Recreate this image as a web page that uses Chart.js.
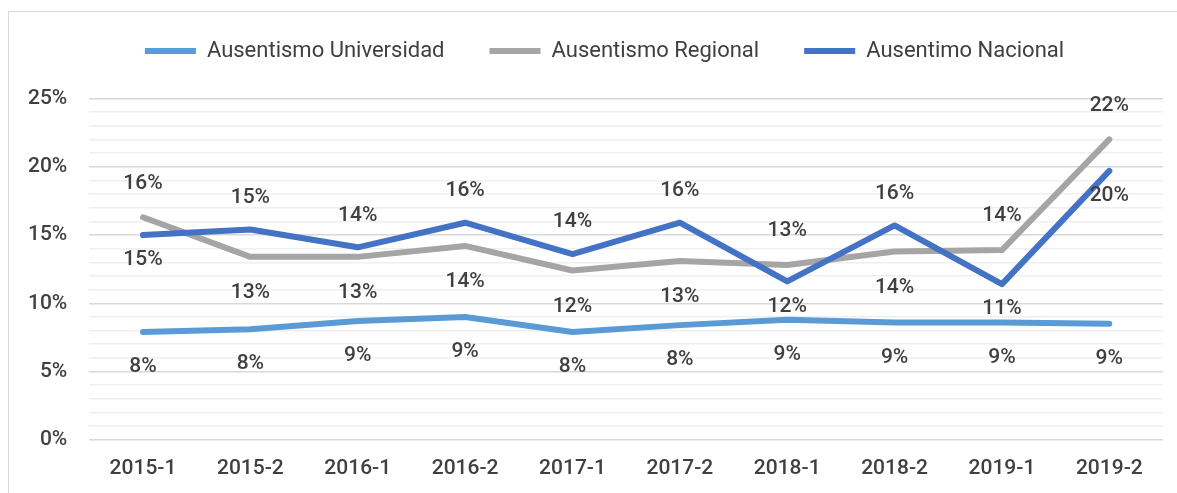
<!DOCTYPE html>
<html>
<head>
<meta charset="utf-8">
<script src="https://cdn.jsdelivr.net/npm/chart.js@4"></script>
<style>
  html, body { margin: 0; padding: 0; background: #fff; overflow: hidden; }
  #frame { position: absolute; left: 8px; top: 11px; width: 1300px; height: 600px; border: 1px solid #d9d9d9; }
  #wrap { position: absolute; left: 0; top: 0; width: 1177px; height: 493px; }
</style>
</head>
<body>
<div id="frame"></div>
<div id="wrap"><canvas id="ausentismoChart"></canvas></div>
<script>
const periodos = ['2015-1', '2015-2', '2016-1', '2016-2', '2017-1', '2017-2', '2018-1', '2018-2', '2019-1', '2019-2'];
const universidad = [7.9, 8.1, 8.7, 9.0, 7.9, 8.4, 8.8, 8.6, 8.6, 8.5];
const regional = [16.3, 13.4, 13.4, 14.2, 12.4, 13.1, 12.8, 13.8, 13.9, 22.0];
const nacional = [15.0, 15.4, 14.1, 15.9, 13.6, 15.9, 11.6, 15.7, 11.4, 19.7];

// donde va la etiqueta de cada punto (arriba / abajo)
const posUniversidad = ['b', 'b', 'b', 'b', 'b', 'b', 'b', 'b', 'b', 'b'];
const posRegional = ['a', 'b', 'b', 'b', 'b', 'b', 'a', 'b', 'a', 'a'];
const posNacional = ['b', 'a', 'a', 'a', 'a', 'a', 'b', 'a', 'b', 'b'];

const textColor = '#404040';

// plugin simple para las etiquetas de datos
const etiquetas = {
  id: 'etiquetas',
  afterDatasetsDraw(chart) {
    const ctx = chart.ctx;
    ctx.save();
    ctx.font = '500 21px Roboto';
    ctx.fillStyle = textColor;
    ctx.textAlign = 'center';
    ctx.textBaseline = 'middle';
    chart.data.datasets.forEach((ds, i) => {
      const meta = chart.getDatasetMeta(i);
      meta.data.forEach((pt, j) => {
        const off = ds.labelPos[j] === 'a' ? -ds.labelGap.a : ds.labelGap.b;
        ctx.fillText(Math.round(ds.data[j]) + '%', pt.x, pt.y + off);
      });
    });
    ctx.restore();
  }
};

// la leyenda usa el mismo padding en horizontal y vertical; se ajusta aqui
const ajusteLeyenda = {
  id: 'ajusteLeyenda',
  beforeLayout(chart) {
    const lg = chart.legend;
    if (!lg || lg._ajustado) return;
    const fit = lg.fit;
    lg.fit = function () {
      fit.call(this);
      this.height += 26.5;
      this.lineWidths = this.lineWidths.map(w => w - 40);
    };
    lg._ajustado = true;
  }
};

const ctx = document.getElementById('ausentismoChart').getContext('2d');
const chart = new Chart(ctx, {
  type: 'line',
  data: {
    labels: periodos,
    datasets: [
      {
        label: 'Ausentismo Universidad',
        data: universidad,
        borderColor: '#5b9bd5',
        backgroundColor: '#5b9bd5',
        labelPos: posUniversidad,
        labelGap: { a: 34, b: 35 },
        order: 2
      },
      {
        label: 'Ausentismo Regional',
        data: regional,
        borderColor: '#a5a5a5',
        backgroundColor: '#a5a5a5',
        labelPos: posRegional,
        labelGap: { a: 34, b: 36 },
        order: 1
      },
      {
        label: 'Ausentimo Nacional',
        data: nacional,
        borderColor: '#4472c4',
        backgroundColor: '#4472c4',
        labelPos: posNacional,
        labelGap: { a: 32, b: 25 },
        order: 0
      }
    ]
  },
  options: {
    responsive: true,
    maintainAspectRatio: false,
    animation: false,
    datasets: {
      line: { borderWidth: 6, borderCapStyle: 'round', borderJoinStyle: 'round', tension: 0, pointRadius: 0, pointHoverRadius: 0 }
    },
    layout: { padding: { top: -5, right: 14, left: 6, bottom: -4 } },
    plugins: {
      legend: {
        position: 'top',
        labels: {
          sort: (a, b) => a.datasetIndex - b.datasetIndex,
          usePointStyle: true,
          pointStyle: 'line',
          pointStyleWidth: 51,
          boxHeight: 6,
          padding: 45,
          color: textColor,
          font: { family: 'Roboto', size: 22 }
        }
      },
      tooltip: { enabled: false }
    },
    scales: {
      x: {
        offset: true,
        grid: { display: false, drawTicks: false },
        border: { display: false },
        ticks: {
          color: textColor,
          padding: 16,
          maxRotation: 0,
          font: { family: 'Roboto', size: 21, weight: '500' }
        }
      },
      y: {
        min: 0,
        max: 25,
        border: { display: false },
        grid: {
          drawTicks: false,
          lineWidth: 1.5,
          color: c => (c.tick && c.tick.value % 5 === 0) ? '#d9d9d9' : '#efefef'
        },
        ticks: {
          stepSize: 1,
          autoSkip: false,
          padding: 22,
          color: textColor,
          font: { family: 'Roboto', size: 21, weight: '500' },
          callback: v => (v % 5 === 0 ? v + '%' : '')
        }
      }
    }
  },
  plugins: [etiquetas, ajusteLeyenda]
});
</script>
</body>
</html>
